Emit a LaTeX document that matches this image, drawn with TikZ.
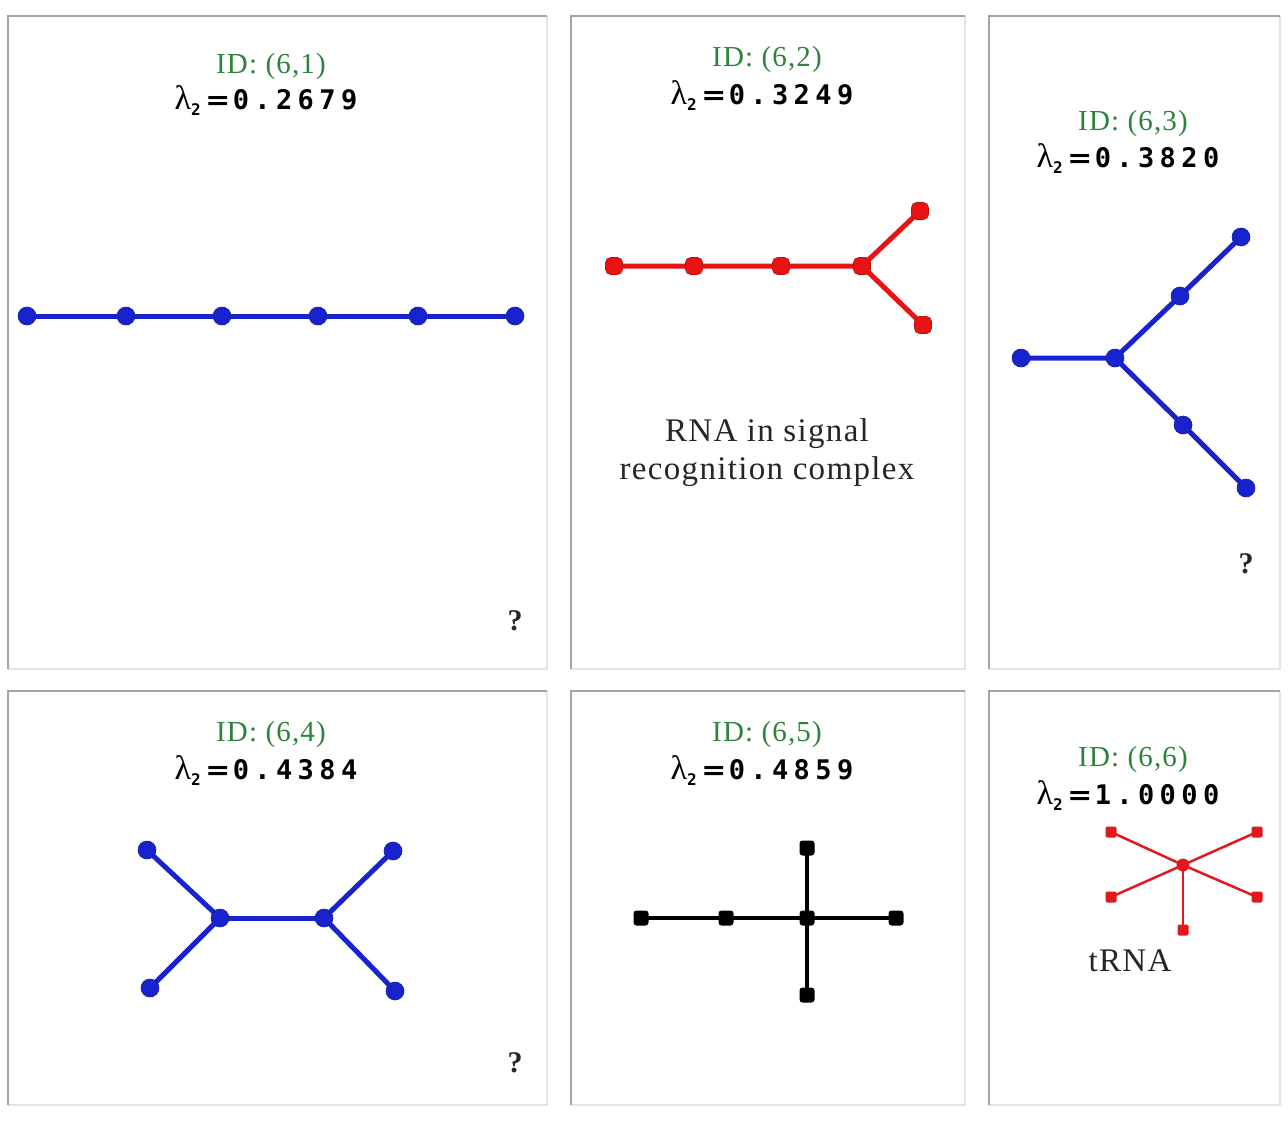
\documentclass[tikz,border=0pt]{standalone}
\usepackage{fontspec}
\setmainfont{Liberation Serif}
\newfontfamily\idfont[LetterSpace=4]{Liberation Serif}
\newfontfamily\valfont[LetterSpace=20]{DejaVu Sans Mono}
\newfontfamily\eqfont{DejaVu Sans Mono}
\definecolor{idgreen}{RGB}{45,130,60}
\definecolor{gblue}{RGB}{25,35,205}
\definecolor{gred}{RGB}{232,20,20}
\definecolor{tred}{RGB}{225,25,30}
\definecolor{edgedark}{RGB}{165,165,160}
\definecolor{edgelight}{RGB}{228,228,222}
\newcommand{\lamval}[1]{{\fontsize{34}{34}\selectfont λ}\raisebox{-6pt}{\fontsize{16}{16}\selectfont\eqfont\bfseries 2}\hspace{6pt}\scalebox{1.35}[1]{\fontsize{27}{27}\selectfont\eqfont\bfseries =}\hspace{4pt}{\fontsize{27}{27}\selectfont\valfont\bfseries #1}}
\tikzset{
  idtext/.style={text=idgreen,font=\idfont\fontsize{29}{29}\selectfont,inner sep=0pt},
  lamtext/.style={text=black,inner sep=0pt},
  labeltext/.style={text=black!85,font=\idfont\fontsize{33}{38}\selectfont,align=center,inner sep=0pt},
  qtext/.style={text=black!85,font=\bfseries\fontsize{30}{30}\selectfont,inner sep=0pt},
  bnode/.style={circle,fill=gblue,draw=gblue!80!black,line width=0.6pt,minimum size=18pt,inner sep=0pt},
  rnode/.style={rectangle,rounded corners=5pt,fill=gred,draw=gred!80!black,line width=0.6pt,minimum size=17pt,inner sep=0pt},
  knode/.style={rectangle,rounded corners=3pt,fill=black,minimum size=15pt,inner sep=0pt},
  tnode/.style={rectangle,rounded corners=2pt,fill=tred,minimum size=11pt,inner sep=0pt},
  tcenter/.style={circle,fill=tred,minimum size=13pt,inner sep=0pt},
  bedge/.style={draw=gblue,line width=5pt},
  redge/.style={draw=gred,line width=5pt},
  kedge/.style={draw=black,line width=4pt},
  tedge/.style={draw=tred,line width=2.5pt},
}
\newcommand{\panel}[4]{%
  \draw[edgelight,line width=2pt] (#3,#2) -- (#3,#4) -- (#1,#4);
  \draw[edgedark,line width=2pt] (#1,#4) -- (#1,#2) -- (#3,#2);
}
\begin{document}
\begin{tikzpicture}[x=1pt,y=-1pt]
\useasboundingbox[fill=white] (0,0) rectangle (1288,1122);
% panels
\panel{8}{16}{547}{669}
\panel{571}{16}{965}{669}
\panel{989}{16}{1280}{669}
\panel{8}{691}{547}{1105}
\panel{571}{691}{965}{1105}
\panel{989}{691}{1280}{1105}

% ---- panel 1
\node[idtext] (id1) at (271,67) {ID: (6,1)};
\node[lamtext] (lam1) at (266,101) {\lamval{0.2679}};
\node[bnode] (a1) at (27,316) {};
\node[bnode] (a2) at (126,316) {};
\node[bnode] (a3) at (222,316) {};
\node[bnode] (a4) at (318,316) {};
\node[bnode] (a5) at (418,316) {};
\node[bnode] (a6) at (515,316) {};
\path[bedge] (a1) -- (a2) -- (a3) -- (a4) -- (a5) -- (a6);
\node[qtext] (q1) at (515,621) {?};

% ---- panel 2
\node[idtext] (id2) at (767,60) {ID: (6,2)};
\node[lamtext] (lam2) at (762,96) {\lamval{0.3249}};
\coordinate (bc1) at (614,266);
\coordinate (bc2) at (694,266);
\coordinate (bc3) at (781,266);
\coordinate (bc4) at (862,266);
\coordinate (bc5) at (920,211);
\coordinate (bc6) at (923,325);
\path[redge] (bc1) -- (bc2) -- (bc3) -- (bc4) -- (bc5);
\path[redge] (bc4) -- (bc6);
\node[rnode] (b1) at (bc1) {};
\node[rnode] (b2) at (bc2) {};
\node[rnode] (b3) at (bc3) {};
\node[rnode] (b4) at (bc4) {};
\node[rnode] (b5) at (bc5) {};
\node[rnode] (b6) at (bc6) {};
\node[labeltext] (lab2) at (767,453) {RNA in signal\\recognition complex};

% ---- panel 3
\node[idtext] (id3) at (1133,124) {ID: (6,3)};
\node[lamtext] (lam3) at (1128,159) {\lamval{0.3820}};
\coordinate (cc1) at (1021,358);
\coordinate (cc2) at (1115,358);
\coordinate (cc3) at (1180,296);
\coordinate (cc4) at (1241,237);
\coordinate (cc5) at (1183,425);
\coordinate (cc6) at (1246,488);
\path[bedge] (cc1) -- (cc2) -- (cc3) -- (cc4);
\path[bedge] (cc2) -- (cc5) -- (cc6);
\node[bnode] (c1) at (cc1) {};
\node[bnode] (c2) at (cc2) {};
\node[bnode] (c3) at (cc3) {};
\node[bnode] (c4) at (cc4) {};
\node[bnode] (c5) at (cc5) {};
\node[bnode] (c6) at (cc6) {};
\node[qtext] (q3) at (1246,564) {?};

% ---- panel 4
\node[idtext] (id4) at (271,735) {ID: (6,4)};
\node[lamtext] (lam4) at (266,771) {\lamval{0.4384}};
\coordinate (dc1) at (220,918);
\coordinate (dc2) at (324,918);
\coordinate (dc3) at (147,850);
\coordinate (dc4) at (150,988);
\coordinate (dc5) at (393,851);
\coordinate (dc6) at (395,991);
\path[bedge] (dc3) -- (dc1) -- (dc4);
\path[bedge] (dc1) -- (dc2);
\path[bedge] (dc5) -- (dc2) -- (dc6);
\node[bnode] (d1) at (dc1) {};
\node[bnode] (d2) at (dc2) {};
\node[bnode] (d3) at (dc3) {};
\node[bnode] (d4) at (dc4) {};
\node[bnode] (d5) at (dc5) {};
\node[bnode] (d6) at (dc6) {};
\node[qtext] (q4) at (515,1063) {?};

% ---- panel 5
\node[idtext] (id5) at (767,735) {ID: (6,5)};
\node[lamtext] (lam5) at (762,771) {\lamval{0.4859}};
\coordinate (ec1) at (641,918);
\coordinate (ec2) at (726,918);
\coordinate (ec3) at (807,918);
\coordinate (ec4) at (896,918);
\coordinate (ec5) at (807,848);
\coordinate (ec6) at (807,995);
\path[kedge] (ec1) -- (ec2) -- (ec3) -- (ec4);
\path[kedge] (ec5) -- (ec3) -- (ec6);
\node[knode] (e1) at (ec1) {};
\node[knode] (e2) at (ec2) {};
\node[knode] (e3) at (ec3) {};
\node[knode] (e4) at (ec4) {};
\node[knode] (e5) at (ec5) {};
\node[knode] (e6) at (ec6) {};

% ---- panel 6
\node[idtext] (id6) at (1133,760) {ID: (6,6)};
\node[lamtext] (lam6) at (1128,796) {\lamval{1.0000}};
\coordinate (fc0) at (1183,865);
\coordinate (fc1) at (1111,832);
\coordinate (fc2) at (1257,832);
\coordinate (fc3) at (1111,897);
\coordinate (fc4) at (1257,897);
\coordinate (fc5) at (1183,930);
\path[tedge] (fc1) -- (fc0) -- (fc4);
\path[tedge] (fc2) -- (fc0) -- (fc3);
\path[tedge] (fc0) -- (fc5);
\node[tcenter] (f0) at (fc0) {};
\node[tnode] (f1) at (fc1) {};
\node[tnode] (f2) at (fc2) {};
\node[tnode] (f3) at (fc3) {};
\node[tnode] (f4) at (fc4) {};
\node[tnode] (f5) at (fc5) {};
\node[labeltext] (lab6) at (1130,961) {tRNA};
\end{tikzpicture}
\end{document}
